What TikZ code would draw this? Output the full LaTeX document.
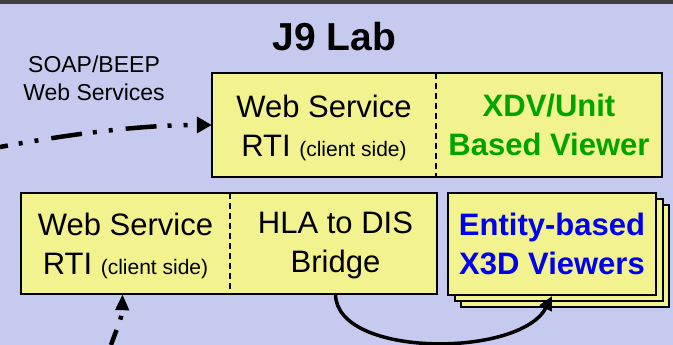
\documentclass[tikz,border=0pt]{standalone}
\usepackage{fontspec}
\setmainfont{Liberation Sans}
\usetikzlibrary{arrows.meta}
\definecolor{bg}{HTML}{C6CAEE}
\definecolor{band}{HTML}{404040}
\definecolor{boxfill}{HTML}{F2F28E}
\definecolor{xgreen}{HTML}{00A400}
\definecolor{xblue}{HTML}{0000F0}
\begin{document}
\begin{tikzpicture}[x=1pt,y=-1pt,
  half/.style={rectangle, inner sep=0pt, fill=boxfill},
  boxtext/.style={inner sep=0pt, align=center, font=\fontsize{31}{39}\selectfont},
  stackbox/.style={rectangle, inner sep=0pt, fill=boxfill, draw=black,
    line width=2pt, minimum width=208pt, minimum height=102pt},
  frame/.style={draw=black, line width=2pt},
  divider/.style={draw=black, line width=1.5pt, dash pattern=on 6pt off 4pt},
  dashdot/.style={line width=4.5pt, line cap=butt,
    dash pattern=on 31pt off 11pt on 4pt off 12pt on 4pt off 13pt},
  note/.style={font=\fontsize{23}{28}\selectfont, align=center, inner sep=0pt}]
\useasboundingbox (0,0) rectangle (673,345);
\fill[bg] (0,0) rectangle (673,345);
\fill[band] (0,0) rectangle (673,4);

% title and label
\node[anchor=base, inner sep=0pt, font=\fontsize{39}{44}\selectfont\bfseries] (title) at (334.5,51) {J9 Lab};
\node[note] (soap) at (94,78) {SOAP/BEEP\\Web Services};

% top box
\node[half, minimum width=224pt, minimum height=104pt] (ws1) at (324,125) {};
\node[half, minimum width=226pt, minimum height=104pt] (xdv) at (549,125) {};
\draw[frame] (ws1.north west) rectangle (xdv.south east);
\draw[divider] (ws1.north east) -- (ws1.south east);
\node[boxtext] (ws1t) at ([yshift=-3pt]ws1.center)
  {Web Service\\RTI {\fontsize{21}{25}\selectfont (client side)}};
\node[boxtext, font=\fontsize{31}{39}\selectfont\bfseries, text=xgreen] (xdvt) at (xdv.center)
  {XDV/Unit\\Based Viewer};

% bottom box
\node[half, minimum width=209pt, minimum height=101pt] (ws2) at (125.5,243.5) {};
\node[half, minimum width=207pt, minimum height=101pt] (hla) at (333.5,243.5) {};
\draw[frame] (ws2.north west) rectangle (hla.south east);
\draw[divider] (ws2.north east) -- (ws2.south east);
\node[boxtext] (ws2t) at ([yshift=-2pt]ws2.center)
  {Web Service\\RTI {\fontsize{21}{25}\selectfont (client side)}};
\node[boxtext] (hlat) at ([yshift=-2pt,xshift=2pt]hla.center)
  {HLA to DIS\\Bridge};

% stacked viewers
\node[stackbox] (ent3) at (565,256) {};
\node[stackbox] (ent2) at (559,250) {};
\node[stackbox, align=center, text=xblue, font=\fontsize{31}{39}\selectfont\bfseries] (ent) at (552,244)
  {Entity-based\\X3D Viewers};

% connectors
\coordinate (soapstart) at (0,147);
\coordinate (rtistart) at (111,345);
\draw[dashdot, dash phase=23pt, -{Triangle[length=15pt,width=16pt]}]
  (soapstart) .. controls (70,134) and (140,125) .. (ws1.west);
\draw[dashdot, dash phase=15pt, -{Triangle[length=16pt,width=13pt]}]
  (rtistart) .. controls (117,328) and (122,318) .. ([xshift=-3pt]ws2.south);
\draw[line width=3.5pt, -{Triangle[length=14pt,width=13pt]}]
  ([xshift=2pt]hla.south) .. controls (336,358) and (520,358) .. (ent.south);
\end{tikzpicture}
\end{document}
